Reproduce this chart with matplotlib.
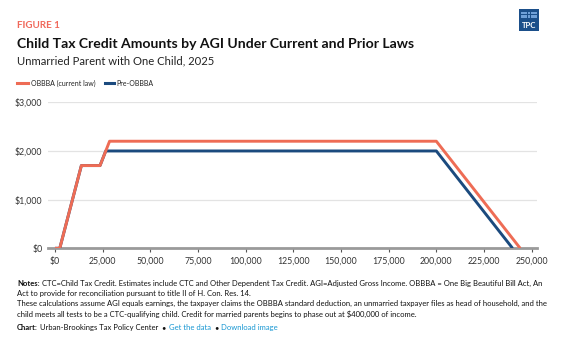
import matplotlib
matplotlib.use("Agg")
import matplotlib.pyplot as plt
from matplotlib.patches import Rectangle

plt.rcParams["font.family"] = ["Lato", "DejaVu Sans"]

# AGI breakpoints and credit amounts
agi_obbba = [0, 2500, 13833, 23625, 28625, 200000, 244000]
ctc_obbba = [0, 0, 1700, 1700, 2200, 2200, 0]
agi_pre = [0, 2500, 13833, 23625, 26625, 200000, 240000]
ctc_pre = [0, 0, 1700, 1700, 2000, 2000, 0]

x_ticks = [0, 25000, 50000, 75000, 100000, 125000, 150000, 175000, 200000, 225000, 250000]
x_labels = ["$0"] + [f"{v:,}" for v in x_ticks[1:]]
y_ticks = [0, 1000, 2000, 3000]
y_labels = [f"${v:,}" for v in y_ticks]

RED = "#ee6c55"
BLUE = "#1b4a7e"
W, H = 576, 338

fig = plt.figure(figsize=(W / 100, H / 100), dpi=100)


def fx(px):
    return px / W


def fy(py):
    return 1 - py / H


ax = fig.add_axes([fx(48), fy(248.3), fx(489), 146 / H])
ax.plot(agi_pre, ctc_pre, color=BLUE, lw=2.1, solid_capstyle="butt", zorder=3)
ax.plot(agi_obbba, ctc_obbba, color=RED, lw=2.1, solid_capstyle="butt", zorder=4)
ax.set_xlim(-3670, 252800)
ax.set_ylim(0, 3000)
ax.set_xticks(x_ticks)
ax.set_xticklabels(x_labels)
ax.set_yticks(y_ticks)
ax.set_yticklabels(y_labels)
ax.tick_params(axis="x", length=3, width=0.8, color="#555555", labelsize=6.3,
               labelcolor="#333333", pad=3)
ax.tick_params(axis="y", length=0, labelsize=6.3, labelcolor="#333333", pad=4)
for s in ["top", "right", "left"]:
    ax.spines[s].set_visible(False)
ax.spines["bottom"].set_color("#9a9a9a")
ax.spines["bottom"].set_linewidth(2)
ax.spines["bottom"].set_zorder(2)
ax.grid(axis="y", color="#e3e3e3", lw=0.9)
ax.set_axisbelow(True)

# header
fig.text(fx(17), fy(25), "FIGURE 1", color="#f0685a", fontsize=7, fontweight="bold", va="center")
fig.text(fx(17), fy(44), "Child Tax Credit Amounts by AGI Under Current and Prior Laws",
         fontsize=10.1, fontweight="bold", color="#111111", va="center")
fig.text(fx(17), fy(61), "Unmarried Parent with One Child, 2025", fontsize=8.1,
         color="#222222", va="center")

# legend
fig.add_artist(plt.Line2D([fx(17), fx(28)], [fy(83), fy(83)], color=RED, lw=2.2))
fig.text(fx(31), fy(83), "OBBBA (current law)", fontsize=5.0, color="#222222", va="center")
fig.add_artist(plt.Line2D([fx(105), fx(114)], [fy(83), fy(83)], color=BLUE, lw=2.2))
fig.text(fx(116), fy(83), "Pre-OBBBA", fontsize=5.0, color="#222222", va="center")

# logo
fig.add_artist(Rectangle((fx(519), fy(31)), fx(20), 22 / H, color="#1b4f8a", lw=0))
for i in range(5):
    for j in range(2):
        fig.add_artist(Rectangle((fx(521 + i * 3.3), fy(17.5 - j * 3.3)), fx(2.6), 2.6 / H,
                                 color="#6fa0d8", lw=0))
fig.text(fx(529), fy(25.5), "TPC", fontsize=5.6, fontweight="bold", color="white",
         ha="center", va="center")

# notes
fs = 5.5
renderer = fig.canvas.get_renderer()
t = fig.text(fx(17), fy(286), "Notes:", fontsize=fs, fontweight="bold", color="#111111",
             va="baseline")
w = t.get_window_extent(renderer).width
fig.text(fx(17 + w + 2.5), fy(286),
         "CTC=Child Tax Credit. Estimates include CTC and Other Dependent Tax Credit. "
         "AGI=Adjusted Gross Income. OBBBA = One Big Beautiful Bill Act, An",
         fontsize=fs, color="#111111", va="baseline")
note_lines = [
    "Act to provide for reconciliation pursuant to title II of H. Con. Res. 14.",
    "These calculations assume AGI equals earnings, the taxpayer claims the OBBBA standard "
    "deduction, an unmarried taxpayer files as head of household, and the",
    "child meets all tests to be a CTC-qualifying child. Credit for married parents begins "
    "to phase out at $400,000 of income.",
]
for k, line in enumerate(note_lines):
    fig.text(fx(17), fy(296 + k * 10.4), line, fontsize=fs, color="#111111", va="baseline")

parts = [("Chart:", "bold", "#111111", 2.5),
         ("Urban-Brookings Tax Policy Center", "normal", "#111111", 3),
         ("\u2022", "normal", "#111111", 3),
         ("Get the data", "normal", "#1696d2", 3),
         ("\u2022", "normal", "#111111", 3),
         ("Download image", "normal", "#1696d2", 0)]
x = 17
for txt, wt, col, gap in parts:
    t = fig.text(fx(x), fy(330), txt, fontsize=fs, fontweight=wt, color=col, va="baseline")
    x += t.get_window_extent(renderer).width + gap

fig.savefig("out.png", dpi=100)
